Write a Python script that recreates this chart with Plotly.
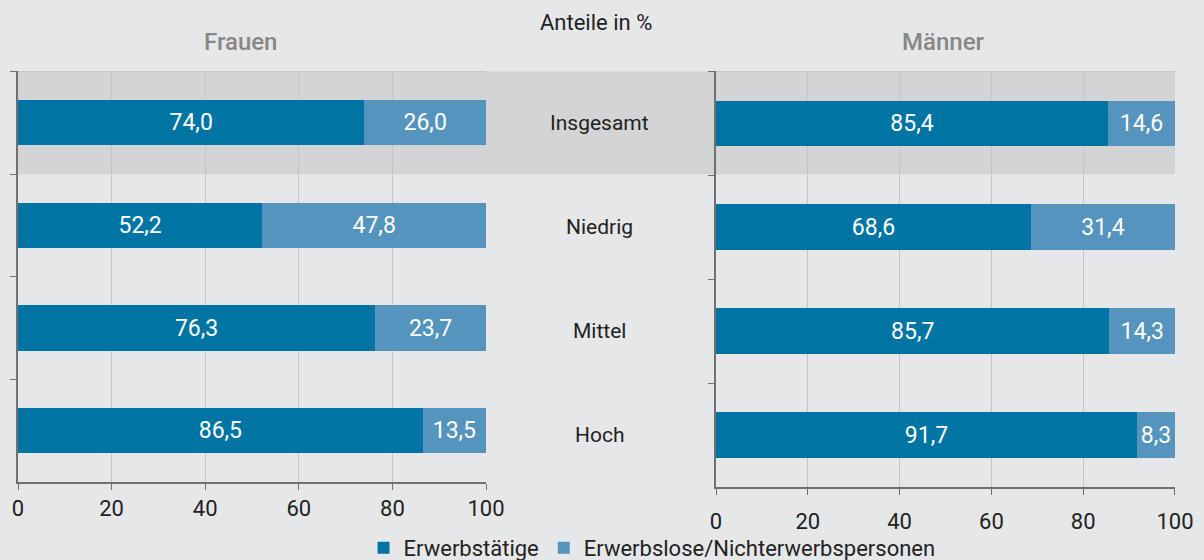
import plotly.graph_objects as go

categories = ["Insgesamt", "Niedrig", "Mittel", "Hoch"]
frauen_erwerb = [74.0, 52.2, 76.3, 86.5]
frauen_nicht = [26.0, 47.8, 23.7, 13.5]
maenner_erwerb = [85.4, 68.6, 85.7, 91.7]
maenner_nicht = [14.6, 31.4, 14.3, 8.3]
series_names = ["Erwerbstätige", "Erwerbslose/Nichterwerbspersonen"]
x_ticks = [0, 20, 40, 60, 80, 100]

C_DARK = "#0075a4"
C_LIGHT = "#5494bd"
BG = "#e6e7e9"
BAND = "#d3d4d6"
FONT = "Roboto"


def fmt(vals):
    return [f"{v:.1f}".replace(".", ",") for v in vals]


fig = go.Figure()
for vals, name, color, xa, ya, show in [
    (frauen_erwerb, series_names[0], C_DARK, "x", "y", True),
    (frauen_nicht, series_names[1], C_LIGHT, "x", "y", True),
    (maenner_erwerb, series_names[0], C_DARK, "x2", "y2", False),
    (maenner_nicht, series_names[1], C_LIGHT, "x2", "y2", False),
]:
    fig.add_trace(go.Bar(
        x=vals, y=categories, orientation="h", name=name,
        marker=dict(color=color, line=dict(width=0)),
        text=fmt(vals), textposition="inside", insidetextanchor="middle",
        textfont=dict(color="white", size=23, family=FONT),
        xaxis=xa, yaxis=ya, showlegend=show, legendgroup=name,
        width=0.44, hoverinfo="skip",
    ))

xcommon = dict(range=[0, 100], tickvals=x_ticks, ticks="outside", ticklen=6,
               tickcolor="#707070", showline=True, linecolor="#707070", linewidth=2,
               showgrid=True, gridcolor="#c4c5c7", gridwidth=1, zeroline=False,
               tickfont=dict(size=22, color="#222222", family=FONT), fixedrange=True,
               automargin=False)
ycommon = dict(type="category", categoryarray=categories, autorange="reversed",
               showticklabels=False, ticks="outside", ticklen=6, tickcolor="#707070",
               tickson="boundaries", showline=True, linecolor="#707070", linewidth=2,
               showgrid=False, zeroline=False, fixedrange=True, automargin=False)

fig.update_layout(
    width=1204, height=560,
    margin=dict(l=18, r=29, t=71, b=73, autoexpand=False),
    paper_bgcolor=BG, plot_bgcolor="rgba(0,0,0,0)",
    barmode="stack", bargap=0.56,
    font=dict(family=FONT, color="#222222"),
    xaxis=dict(domain=[0, 0.4045], anchor="y", **xcommon),
    yaxis=dict(domain=[0.012, 1], anchor="x", **ycommon),
    xaxis2=dict(domain=[0.6033, 1], anchor="y2", ticklabelstandoff=8, **xcommon),
    yaxis2=dict(domain=[0, 1], anchor="x2", **ycommon),
    legend=dict(orientation="h", x=0.548, xanchor="center",
                yref="container", y=(560 - 548) / 560, yanchor="middle",
                font=dict(size=22, color="#222222", family=FONT), bgcolor="rgba(0,0,0,0)",
                itemwidth=30, traceorder="normal"),
    showlegend=True,
)

# grey band behind "Insgesamt"
fig.add_shape(type="rect", xref="paper", yref="y", x0=0, x1=1, y0=-0.5, y1=0.5,
              fillcolor=BAND, line=dict(width=0), layer="below")
# light top borders
for xr, yr in [("x", "y"), ("x2", "y2")]:
    fig.add_shape(type="line", xref=xr, yref=yr, x0=0, x1=100, y0=-0.5, y1=-0.5,
                  line=dict(color="#c4c5c7", width=1), layer="below")

# middle labels
for c in categories:
    fig.add_annotation(text=c, xref="paper", yref="y2", x=0.503, y=c, showarrow=False,
                       font=dict(size=21, color="#222222", family=FONT),
                       xanchor="center", yanchor="middle")

fig.add_annotation(text="Frauen", xref="paper", yref="paper", x=(240 - 18) / 1157,
                   y=1 + (71 - 42) / 416, showarrow=False, xanchor="center", yanchor="middle",
                   font=dict(size=24, color="#878787", family=FONT, weight=500))
fig.add_annotation(text="Männer", xref="paper", yref="paper", x=(943 - 18) / 1157,
                   y=1 + (71 - 42) / 416, showarrow=False, xanchor="center", yanchor="middle",
                   font=dict(size=24, color="#878787", family=FONT, weight=500))
fig.add_annotation(text="Anteile in %", xref="paper", yref="paper", x=(596 - 18) / 1157,
                   y=1 + (71 - 22) / 416, showarrow=False, xanchor="center", yanchor="middle",
                   font=dict(size=22, color="#222222", family=FONT))

fig.write_html("out.html", config={"displayModeBar": False},
               post_script="document.body.style.margin='0';")
